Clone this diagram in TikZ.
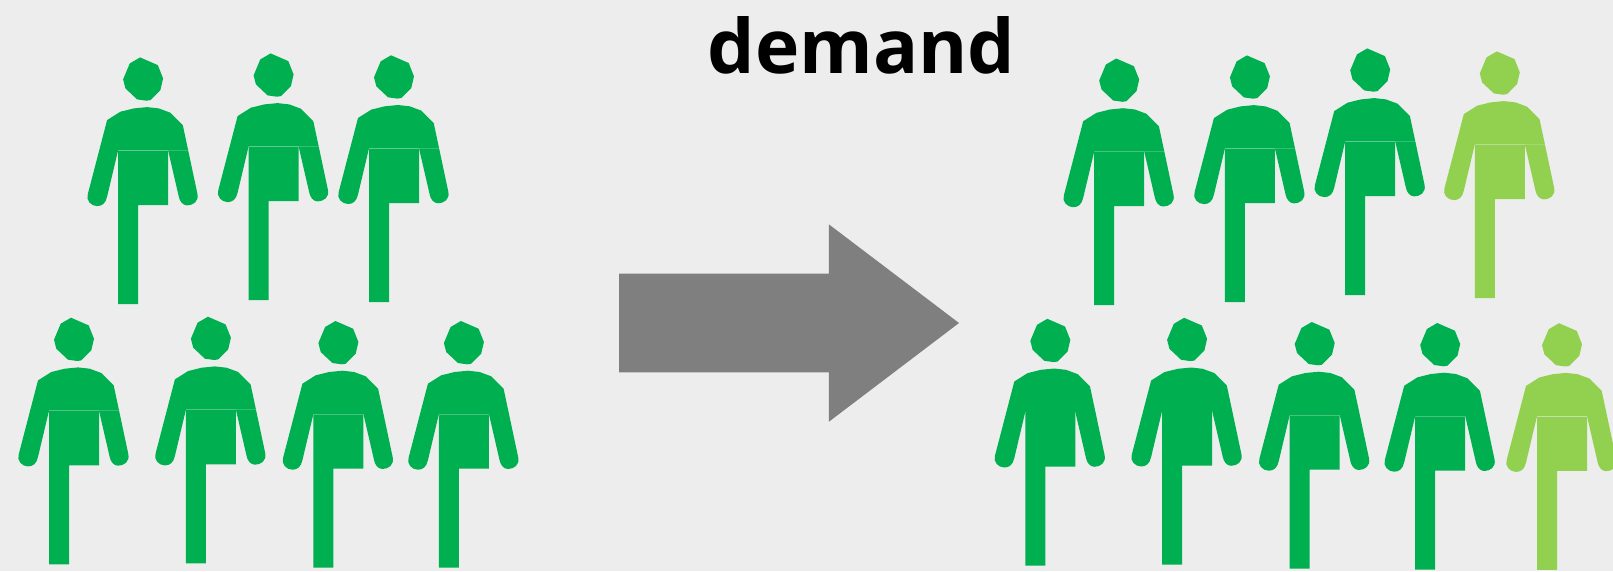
\documentclass[tikz,border=0pt]{standalone}
\usepackage{fontspec}
\usepackage{xcolor}
\usepackage{tikz}
\setmainfont{Open Sans}
\definecolor{bggray}{HTML}{EDEDED}
\definecolor{arrowgray}{HTML}{7F7F7F}
\definecolor{darkgreen}{HTML}{00B050}
\definecolor{lightgreen}{HTML}{92D050}
\tikzset{
  person/.pic={
    \path[pic actions] (22,-93)--(39.7,-85.3)--(45,-72)--(42.3,-60.3)--(32.3,-50.3)--(28.3,-49.7)--(19,-51)--(7.3,-62)--(5,-71)--(11.7,-87)--cycle;
    \path[pic actions] (-11,-30.3)--(2.3,-38.7)--(15.7,-42)--(29,-43.3)--(40.7,-42)--(52.3,-37.7)--(64.7,-25.3)--(70.1,0)--(0,0)--(-11,46.3)
      .. controls (-12.5,53) and (-16,55.7) .. (-21,55.7) .. controls (-27,55.7) and (-32.5,50) .. (-30.3,43.7)--cycle;
    \path[pic actions] (0,0.3)--(50,0.3)--(50,54.7)--(20,54.7)--(20,153.7)--(0,153.7)--cycle;
    \path[pic actions] (50,0)--(70.1,0)--(79.3,43.3)
      .. controls (81,51) and (75,55) .. (69,55) .. controls (64.5,55) and (61.5,50.5) .. (60.7,46.3)--cycle;
  },
  dark/.style={fill=darkgreen},
  light/.style={fill=lightgreen}
}

\begin{document}
\begin{tikzpicture}[x=1pt, y=-1pt]
\fill[bggray] (0,0) rectangle (1613,571);
\clip (0,0) rectangle (1613,571);
\useasboundingbox (0,0) rectangle (1613,571);
\node[font=\fontsize{75}{75}\selectfont\bfseries, inner sep=0pt, anchor=base] (title) at (861.5,73) {demand};
% left group
\pic[dark] (a1) at (118.1,150.4) {person};
\pic[dark] (a2) at (248.6,146.4) {person};
\pic[dark] (a3) at (369,148.3) {person};
\pic[dark] (b1) at (49,410.7) {person};
\pic[dark] (b2) at (185.9,409.7) {person};
\pic[dark] (b3) at (313.4,414) {person};
\pic[dark] (b4) at (438.9,414) {person};
% arrow
\fill[arrowgray] (619,273.6)--(828.8,273.6)--(828.8,224.3)--(959,323)--(828.8,421.8)--(828.8,372.4)--(619,372.4)--cycle;
% right group
\pic[dark] (c1) at (1094.2,151.5) {person};
\pic[dark] (c2) at (1224.9,148.4) {person};
\pic[dark] (c3) at (1345.2,141.4) {person};
\pic[light] (c4) at (1474.8,144.4) {person};
\pic[dark] (d1) at (1025.3,411.8) {person};
\pic[dark] (d2) at (1162.1,410.8) {person};
\pic[dark] (d3) at (1289.7,415) {person};
\pic[dark] (d4) at (1415.2,416) {person};
\pic[light] (d5) at (1537,416.2) {person};
\end{tikzpicture}
\end{document}
